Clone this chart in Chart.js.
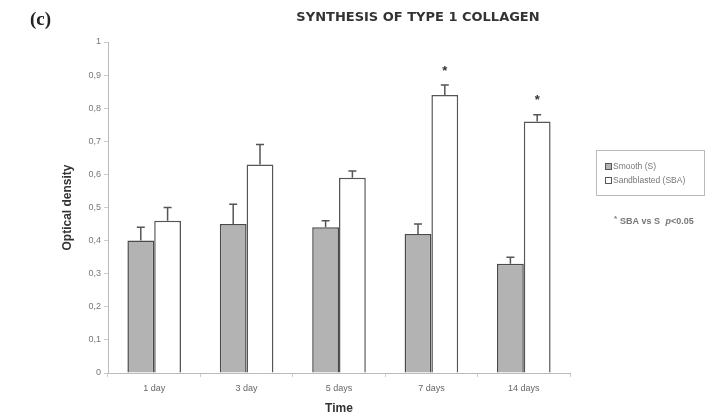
<!DOCTYPE html>
<html><head><meta charset="utf-8">
<script src="https://cdn.jsdelivr.net/npm/chart.js@4/dist/chart.umd.min.js"></script>
<style>html,body{margin:0;padding:0;background:#fff}canvas{display:block}</style>
</head><body>
<canvas id="c" width="707" height="416"></canvas>
<script>
const categories = ['1 day', '3 day', '5 days', '7 days', '14 days'];
const smooth = [0.40, 0.45, 0.44, 0.42, 0.33];
const smoothErr = [0.04, 0.06, 0.02, 0.03, 0.02];
const sandblasted = [0.46, 0.63, 0.59, 0.84, 0.76];
const sandblastedErr = [0.04, 0.06, 0.02, 0.03, 0.02];
const significant = [false, false, false, true, true];
const yTicks = [0, 0.1, 0.2, 0.3, 0.4, 0.5, 0.6, 0.7, 0.8, 0.9, 1];

const errs = [smoothErr, sandblastedErr];

const overlay = {
  id: 'overlay',
  afterDatasetsDraw(chart) {
    const ctx = chart.ctx;
    const y = chart.scales.y;
    ctx.save();
    chart.data.datasets.forEach((ds, di) => {
      const meta = chart.getDatasetMeta(di);
      meta.data.forEach((bar, i) => {
        const top = y.getPixelForValue(ds.data[i] + errs[di][i]);
        ctx.strokeStyle = '#555';
        ctx.lineWidth = 1.5;
        ctx.beginPath();
        ctx.moveTo(bar.x, bar.y);
        ctx.lineTo(bar.x, top);
        ctx.moveTo(bar.x - 4, top);
        ctx.lineTo(bar.x + 4, top);
        ctx.stroke();
        if (di === 1 && significant[i]) {
          ctx.fillStyle = '#333';
          ctx.font = 'bold 13px "Liberation Sans"';
          ctx.textAlign = 'center';
          ctx.textBaseline = 'middle';
          ctx.fillText('*', bar.x, top - 14);
        }
      });
    });
    ctx.restore();
  },
  afterDraw(chart) {
    const ctx = chart.ctx;
    ctx.save();
    ctx.fillStyle = '#222';
    ctx.font = 'bold 19px "Liberation Serif"';
    ctx.textAlign = 'left';
    ctx.textBaseline = 'middle';
    ctx.fillText('(c)', 30, 20);
    ctx.font = 'bold 13px "DejaVu Sans"';
    ctx.fillStyle = '#333';
    ctx.textAlign = 'center';
    ctx.fillText('SYNTHESIS OF TYPE 1 COLLAGEN', 418, 18);
    ctx.strokeStyle = '#bbb';
    ctx.lineWidth = 1;
    ctx.strokeRect(596.5, 150.5, 108, 45);
    const items = [['Smooth (S)', '#b3b3b3'], ['Sandblasted (SBA)', '#ffffff']];
    ctx.font = '8.5px "Liberation Sans"';
    ctx.textAlign = 'left';
    items.forEach((it, k) => {
      const yy = 167 + k * 14;
      ctx.fillStyle = it[1];
      ctx.fillRect(605, yy - 3, 6, 6);
      ctx.strokeStyle = '#555';
      ctx.strokeRect(605.5, yy - 3.5, 6, 6);
      ctx.fillStyle = '#777';
      ctx.fillText(it[0], 613, yy);
    });
    ctx.fillStyle = '#777';
    ctx.font = 'bold 8px "Liberation Sans"';
    ctx.fillText('*', 614, 219);
    ctx.font = 'bold 9px "Liberation Sans"';
    ctx.fillText('SBA vs S', 620, 222);
    const w = ctx.measureText('SBA vs S ').width;
    ctx.font = 'italic bold 9px "Liberation Sans"';
    ctx.fillText('p', 620 + w + 3, 222);
    const wp = ctx.measureText('p').width;
    ctx.font = 'bold 9px "Liberation Sans"';
    ctx.fillText('<0.05', 620 + w + 3 + wp, 222);
    ctx.restore();
  }
};

new Chart(document.getElementById('c'), {
  type: 'bar',
  data: {
    labels: categories,
    datasets: [
      { label: 'Smooth (S)', data: smooth, backgroundColor: '#b3b3b3', borderColor: '#4a4a4a', borderWidth: 1.5 },
      { label: 'Sandblasted (SBA)', data: sandblasted, backgroundColor: '#ffffff', borderColor: '#555', borderWidth: 1.5 }
    ]
  },
  options: {
    responsive: false,
    animation: false,
    devicePixelRatio: 1,
    layout: { padding: { left: 60, right: 137, top: 42, bottom: 0 } },
    categoryPercentage: 0.58,
    barPercentage: 1,
    plugins: { legend: { display: false }, tooltip: { enabled: false }, title: { display: false } },
    scales: {
      x: {
        afterFit(s) { s.height = 43; },
        grid: { drawOnChartArea: false, drawTicks: true, tickLength: 4, color: '#ccc', offset: true },
        border: { color: '#bbb' },
        ticks: { color: '#666', font: { size: 9, family: 'Liberation Sans' }, padding: 6 },
        title: { display: true, text: 'Time', color: '#333', font: { size: 12, weight: 'bold', family: 'Liberation Sans' }, padding: { top: 4, bottom: 0 } }
      },
      y: {
        min: 0, max: 1,
        afterFit(s) { s.width = 48; },
        afterBuildTicks(s) { s.ticks = yTicks.map(v => ({ value: v })); },
        grid: { drawOnChartArea: false, drawTicks: true, tickLength: 4, color: '#ccc' },
        border: { color: '#bbb' },
        ticks: {
          color: '#777', font: { size: 9, family: 'Liberation Sans' }, padding: 3,
          callback: v => String(Math.round(v * 10) / 10).replace('.', ',')
        },
        title: { display: true, text: 'Optical density', color: '#333', font: { size: 12, weight: 'bold', family: 'Liberation Sans' }, padding: { top: 0, bottom: 5 } }
      }
    }
  },
  plugins: [overlay]
});
</script>
</body></html>
